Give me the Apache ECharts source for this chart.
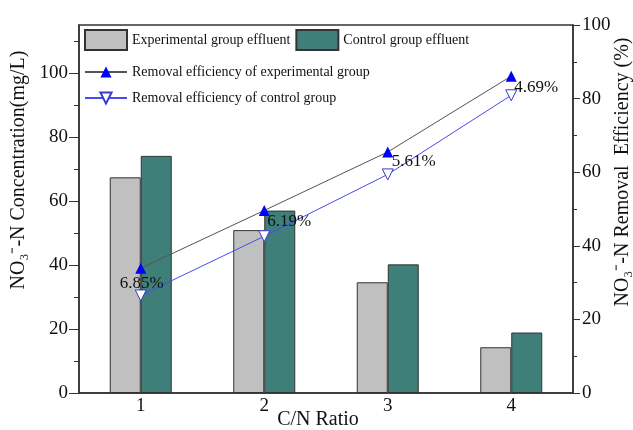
<!DOCTYPE html>
<html><head><meta charset="utf-8">
<script src="https://cdn.jsdelivr.net/npm/echarts@6/dist/echarts.min.js"></script>
<style>html,body{margin:0;padding:0;background:#fff}#c{width:633px;height:430px}</style>
</head><body><div id="c"></div>
<script>
const categories = ['1', '2', '3', '4'];
const expEffluent = [67.4, 50.9, 34.6, 14.3];
const ctrlEffluent = [74.1, 57.0, 40.2, 18.9];
const expRemoval = [33.9, 49.6, 65.5, 86.1];
const ctrlRemoval = [26.5, 42.6, 59.4, 80.9];
const diffLabels = ['6.85%', '6.19%', '5.61%', '4.69%'];
const leftTicks = [0, 20, 40, 60, 80, 100];
const leftMinorTicks = [10, 30, 50, 70, 90, 110];
const labelOffsets = [[1, 15], [25, 11], [26, 10], [25, 11]];

const FONT = 'Liberation Serif';
const TXT = '#111';
const AX = '#333';

const chart = echarts.init(document.getElementById('c'));
chart.setOption({
  animation: false,
  backgroundColor: '#fff',
  grid: { left: 79, right: 60, top: 25, bottom: 37, show: true, borderColor: AX, borderWidth: 1.5, backgroundColor: 'transparent' },
  legend: [
    {
      data: ['Experimental group effluent', 'Control group effluent'],
      orient: 'horizontal', left: 79, top: 24, itemWidth: 42, itemHeight: 20, itemGap: 5,
      icon: 'rect',
      textStyle: { fontFamily: FONT, fontSize: 14, color: TXT }
    },
    {
      data: ['Removal efficiency of experimental group', 'Removal efficiency of control group'],
      orient: 'vertical', left: 79, top: 60, itemWidth: 42, itemHeight: 14, itemGap: 12,
      textStyle: { fontFamily: FONT, fontSize: 14, color: TXT }
    }
  ],
  xAxis: {
    type: 'category', data: categories,
    axisLine: { lineStyle: { color: AX, width: 1.5 } },
    axisTick: { show: false },
    axisLabel: { fontFamily: FONT, fontSize: 19, color: TXT, margin: 4 },
    splitLine: { show: false }
  },
  yAxis: [
    {
      type: 'value', position: 'left', min: 0, max: 115, interval: 20,
      axisLine: { show: true, lineStyle: { color: AX, width: 1.5 } },
      axisTick: { show: true, length: 10, customValues: leftTicks, lineStyle: { color: AX } },
      axisLabel: { fontFamily: FONT, fontSize: 19, color: TXT, margin: 11, customValues: leftTicks },
      splitLine: { show: false }
    },
    {
      type: 'value', position: 'left', min: 0, max: 115, interval: 10,
      axisLine: { show: false },
      axisTick: { show: true, length: 5, customValues: leftMinorTicks, lineStyle: { color: AX } },
      axisLabel: { show: false },
      splitLine: { show: false }
    },
    {
      type: 'value', position: 'right', min: 0, max: 100, interval: 20,
      axisLine: { show: true, lineStyle: { color: AX, width: 1.5 } },
      axisTick: { show: true, length: 7, lineStyle: { color: AX } },
      minorTick: { show: true, splitNumber: 2, length: 4, lineStyle: { color: AX } },
      axisLabel: { fontFamily: FONT, fontSize: 19, color: TXT, margin: 9 },
      splitLine: { show: false }
    }
  ],
  series: [
    {
      name: 'Experimental group effluent', type: 'bar', yAxisIndex: 0,
      data: expEffluent, barWidth: 31, barGap: '0%',
      itemStyle: { color: '#c0c0c0', borderColor: '#333', borderWidth: 1 }
    },
    {
      name: 'Control group effluent', type: 'bar', yAxisIndex: 0,
      data: ctrlEffluent, barWidth: 31, barGap: '0%',
      itemStyle: { color: '#3e7f79', borderColor: '#333', borderWidth: 1 }
    },
    {
      name: 'Removal efficiency of experimental group', type: 'line', yAxisIndex: 2, z: 5,
      data: expRemoval.map((v, i) => ({
        value: v,
        label: { show: true, position: 'inside', offset: labelOffsets[i], formatter: diffLabels[i],
                 fontFamily: FONT, fontSize: 17, color: TXT }
      })),
      symbol: 'triangle', symbolSize: 11,
      itemStyle: { color: '#0000ff' },
      lineStyle: { color: '#555', width: 1 }
    },
    {
      name: 'Removal efficiency of control group', type: 'line', yAxisIndex: 2, z: 4,
      data: ctrlRemoval, symbol: 'triangle', symbolRotate: 180, symbolSize: 11,
      itemStyle: { color: '#fff', borderColor: '#3a3acc', borderWidth: 1 },
      lineStyle: { color: '#4a4af0', width: 1 }
    }
  ],
  graphic: [
    { type: 'text', x: 19, y: 170, rotation: Math.PI / 2,
      style: { text: 'NO\u2083\u207B-N Concentration(mg/L)', fontFamily: FONT, fontSize: 20, fill: TXT,
               align: 'center', verticalAlign: 'middle', textAlign: 'center', textVerticalAlign: 'middle' } },
    { type: 'text', x: 623, y: 172, rotation: Math.PI / 2,
      style: { text: 'NO\u2083\u207B-N Removal  Efficiency (%)', fontFamily: FONT, fontSize: 20, fill: TXT,
               align: 'center', verticalAlign: 'middle', textAlign: 'center', textVerticalAlign: 'middle' } },
    { type: 'text', x: 318, y: 420,
      style: { text: 'C/N Ratio', fontFamily: FONT, fontSize: 20, fill: TXT,
               align: 'center', verticalAlign: 'middle', textAlign: 'center', textVerticalAlign: 'middle' } }
  ]
});
</script>
</body></html>
